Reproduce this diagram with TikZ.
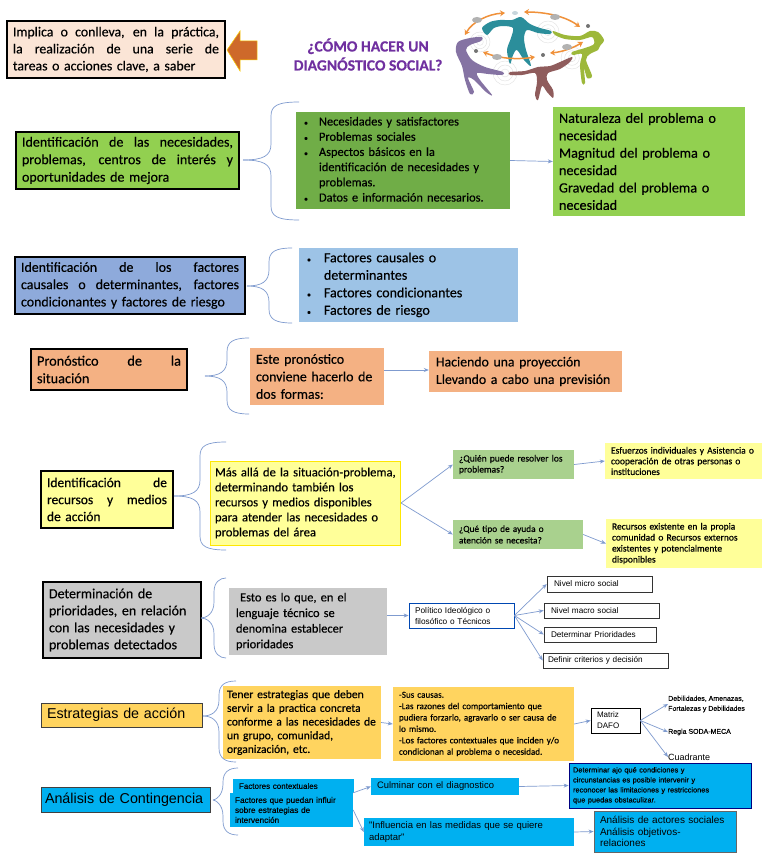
\documentclass[tikz,border=0pt]{standalone}
\usepackage{fontspec}
\setmainfont{Carlito}[FakeBold=0.35]
\newfontfamily\arialf{Liberation Sans}[FakeBold=0.25]
\newfontfamily\arialn{Liberation Sans}
\usetikzlibrary{arrows.meta}
\definecolor{cGreen}{HTML}{92D050}
\definecolor{cDGreen}{HTML}{70AD47}
\definecolor{cBlue}{HTML}{8EAADB}
\definecolor{cLBlue}{HTML}{9DC3E6}
\definecolor{cOrange}{HTML}{F4B183}
\definecolor{cYel}{HTML}{FFFF99}
\definecolor{cMGreen}{HTML}{A9D18E}
\definecolor{cGrey}{HTML}{C9C9C9}
\definecolor{cGold}{HTML}{FFD45F}
\definecolor{cCyan}{HTML}{00B0F0}
\definecolor{cPeach}{HTML}{FBE5D6}
\definecolor{cLine}{HTML}{7F9BCF}
\definecolor{cArr}{HTML}{F0913A}
\definecolor{cTitle}{HTML}{7030A0}
\definecolor{cTeal}{HTML}{2B8E9B}
\definecolor{cFigG}{HTML}{9DB83A}
\definecolor{cFigP}{HTML}{8573A3}
\definecolor{cFigM}{HTML}{8F5C5C}
\newcommand{\jl}[1]{{\spaceskip=0pt \xspaceskip=0pt \makebox[\hsize][s]{#1}}}
\newcommand{\bul}{{\fontsize{8}{8}\selectfont\textbullet}}
\newcommand{\bx}[7][6]{%
 \pgfmathsetmacro{\bw}{#4-#2}\pgfmathsetmacro{\bh}{#5-#3}%
 \pgfmathsetmacro{\tw}{\bw-2*#1}%
 \node[#6,inner xsep=#1pt,inner ysep=0pt,text width=\tw pt,minimum height=\bh pt] (#7) at ({(#2+#4)/2},{(#3+#5)/2})}
\newcommand{\brc}[6]{% tipx tipy spinex topy boty endx
 \draw[bracel] (#1,#2) .. controls (#3-8,#2) and (#3,#2-4) .. (#3,#2-16) -- (#3,#4+14) .. controls (#3,#4+4) and (#3+6,#4) .. (#6,#4);
 \draw[bracel] (#1,#2) .. controls (#3-8,#2) and (#3,#2+4) .. (#3,#2+16) -- (#3,#5-14) .. controls (#3,#5-4) and (#3+6,#5) .. (#6,#5);}
\tikzset{
 bracel/.style={draw=cLine,line width=0.7pt},
 arr/.style={draw=cLine,line width=0.7pt,-{Stealth[length=5pt,width=4pt]}},
 mainb/.style={draw=black,line width=1.2pt,align=left},
 plain/.style={align=left},
 fs/.style 2 args={font=\fontsize{#1}{#2}\selectfont},
 as/.style 2 args={font=\arialf\fontsize{#1}{#2}\selectfont},
 an/.style 2 args={font=\arialn\fontsize{#1}{#2}\selectfont},
 smallbox/.style={plain,draw=black!80,fill=white,line width=0.6pt},
 orr/.style={draw=cArr,line width=1.5pt,{Stealth[length=5pt,width=6pt]}-{Stealth[length=5pt,width=6pt]}},
}
\begin{document}
\begin{tikzpicture}[x=1pt,y=-1pt]
\useasboundingbox (0,0) rectangle (768,866);
\fill[white] (0,0) rectangle (768,866);

% ---- top
\bx{7}{21}{225}{78}{mainb,fill=cPeach,fs={13.8}{17}}{b1} {\jl{Implica o conlleva, en la práctica,}\\\jl{la realización de una serie de}\\tareas o acciones clave, a saber};
\fill[cArr!85!red!85!black,draw=yellow!70!orange,line width=0.5pt] (227,50) -- (240,31) -- (240,41) -- (257,41) -- (257,60) -- (240,60) -- (240,71) -- cycle;
\node[align=center,text=cTitle,font=\bfseries\fontsize{15.6}{19}\selectfont] (title) at (368,54.5) {¿CÓMO HACER UN\\DIAGNÓSTICO SOCIAL?};

% ---- illustration
\foreach \c/\r in {(548,32)/11,(572,58)/11,(505,73)/12,(480,42)/10}{\foreach \k in {1,2,3}{\draw[black!12,line width=0.4pt] \c circle ({\r*\k/3});}}
\fill[cFigP] plot[smooth cycle,tension=.5] coordinates {(458,42)(470,38)(482,37)(481,41)(470,45)(466,50)(472,60)(485,67)(503,72)(502,75)(488,74)(477,73)(480,80)(492,95)(486,92)(474,80)(468,78)(474,92)(470,94)(465,80)(462,66)(456,52)};
\fill[cFigM] plot[smooth cycle,tension=.5] coordinates {(510,72)(525,71)(538,67)(550,66)(560,62)(572,57)(570,62)(560,69)(548,73)(547,80)(553,90)(553,98)(547,92)(542,86)(538,100)(535,95)(537,82)(535,73)(522,75)(510,75)};
\fill[cFigG] plot[smooth cycle,tension=.5] coordinates {(553,31)(565,35)(580,36)(590,31)(598,32)(604,40)(600,46)(598,50)(590,54)(586,60)(592,76)(587,78)(584,68)(585,83)(582,83)(580,65)(582,54)(573,55)(572,52)(585,48)(594,44)(592,37)(580,40)(565,39)(555,35)};
\fill[cTeal] plot[smooth cycle,tension=.5] coordinates {(482,28)(490,22)(500,20)(512,20)(521,17)(530,24)(540,28)(551,31)(550,34)(538,33)(527,30)(524,38)(526,50)(531,66)(524,60)(517,50)(513,55)(510,64)(507,50)(511,38)(513,28)(503,26)(494,28)(487,35)};
\draw[orr] (505,13) .. controls (488,14) and (472,22) .. (465,35);
\draw[orr] (524,12) .. controls (545,12) and (565,16) .. (580,27);
\draw[orr] (483,52) .. controls (498,58) and (515,60) .. (535,57);
\draw[orr] (550,53) .. controls (562,52) and (573,48) .. (583,42);
\foreach \p in {(476,51),(543,55),(588,26)}{\fill[black!55] \p circle (2);}
\fill[cyan!25!gray!40] (515,13) ellipse (3 and 2);
\foreach \p in {(477,20),(555,17),(497,57),(567,47)}{\fill[black!30] \p ellipse (5 and 3);}

% ---- row 2
\bx{16}{132}{239}{189}{mainb,fill=cGreen,fs={14}{17.5}}{b2} {\jl{Identificación de las necesidades,}\\\jl{problemas, centros de interés y}\\oportunidades de mejora};
\bx[8]{296}{112}{510}{209}{plain,fill=cDGreen,fs={12.4}{15.2}}{b2a} {\begin{tabular}{@{}l@{\hspace{11pt}}l@{}}
\bul&Necesidades y satisfactores\\
\bul&Problemas sociales\\
\bul&Aspectos básicos en la\\
&identificación de necesidades y\\
&problemas.\\
\bul&Datos e información necesarios.
\end{tabular}};
\bx[6]{553}{107}{745}{216}{plain,fill=cGreen,fs={14.2}{17.4}}{b2b} {Naturaleza del problema o\\necesidad\\Magnitud del problema o\\necesidad\\Gravedad del problema o\\necesidad};
\brc{243}{160}{271}{102}{220}{299}
\draw[arr] (b2a.east) -- (b2b.west);

% ---- row 3
\bx{15}{257}{245}{314}{mainb,fill=cBlue,fs={13.9}{17.3}}{b3} {\jl{Identificación de los factores}\\\jl{causales o determinantes, factores}\\condicionantes y factores de riesgo};
\bx[8]{299}{248}{518}{322}{plain,fill=cLBlue,fs={14}{17.5}}{b3a} {\begin{tabular}{@{}l@{\hspace{13pt}}l@{}}
\bul&Factores causales o\\
&determinantes\\
\bul&Factores condicionantes\\
\bul&Factores de riesgo
\end{tabular}};
\brc{247}{286}{269}{248}{323}{292}

% ---- row 4
\bx{31}{349}{187}{390}{mainb,fill=cOrange,fs={14.3}{17.5}}{b4} {\jl{Pronóstico\hfill de\hfill la}\\situación};
\bx[6]{250}{348}{384}{405}{plain,fill=cOrange,fs={13.9}{17.5}}{b4a} {Este pronóstico\\conviene hacerlo de\\dos formas:};
\bx[7]{429}{351}{622}{392}{plain,fill=cOrange,fs={13.8}{17.5}}{b4b} {Haciendo una proyección\\Llevando a cabo una previsión};
\brc{205}{376}{227}{338}{414}{249}
\coordinate (s4) at (b4a.east |- 0,370);
\draw[arr] (s4) -- (b4b.west |- s4);

% ---- row 5
\bx{41}{471}{173}{528}{mainb,fill=cYel,fs={13.5}{17}}{b5} {\jl{Identificación\hfill de}\\\jl{recursos y medios}\\de acción};
\bx[5]{210}{461}{400}{545}{plain,fill=cYel,draw=yellow!90!orange,line width=0.5pt,fs={12.6}{15}}{b5a} {\mbox{Más allá de la situación-problema,}\\determinando también los\\recursos y medios disponibles\\para atender las necesidades o\\problemas del área};
\bx[6]{453}{450}{574}{479}{plain,fill=cMGreen,fs={9.5}{11}}{b5b} {¿Quién puede resolver los\\problemas?};
\bx[6]{453}{520}{583}{549}{plain,fill=cMGreen,fs={9.3}{11.5}}{b5c} {¿Qué tipo de ayuda o\\atención se necesita?};
\bx[6]{605}{443}{762}{479}{plain,fill=cYel,fs={9.5}{10.7}}{b5d} {Esfuerzos individuales y Asistencia o\\cooperación de otras personas o\\instituciones};
\bx[6]{606}{519}{762}{568}{plain,fill=cYel,fs={9.5}{11}}{b5e} {Recursos existente en la propia\\comunidad o Recursos externos\\existentes y potencialmente\\disponibles};
\brc{174}{496}{200}{442}{550}{226}
\coordinate (s5) at (401,503);
\draw[arr] (s5) -- (b5b.west);
\draw[arr] (s5) -- (b5c.west);
\draw[arr] (b5b.east) -- (b5d.west);
\draw[arr] (b5c.east) -- (b5e.west);

% ---- row 6
\bx{43}{582}{201}{658}{mainb,fill=cGrey,line width=1.5pt,fs={14}{17}}{b6} {Determinación de\\prioridades, en relación\\con las necesidades y\\problemas detectados};
\bx[7]{229}{588}{387}{655}{plain,fill=cGrey,fs={12.4}{15.6}}{b6a} {\ Esto es lo que, en el\\lenguaje técnico se\\denomina establecer\\prioridades};
\bx[6]{409}{603}{514}{628}{plain,fill=white,draw=blue!60!cyan!70!black,line width=0.8pt,an={8.3}{11}}{b6b} {Político Ideológico o\\filosófico o Técnicos};
\bx[7]{547}{576}{652}{592}{smallbox,an={8.2}{10}}{b6c} {Nivel micro social};
\bx[7]{544}{603}{659}{618}{smallbox,an={8.2}{10}}{b6d} {Nivel macro social};
\bx[7]{544}{627}{656}{642}{smallbox,an={8.2}{10}}{b6e} {Determinar Prioridades};
\bx[5]{543}{653}{668}{668}{smallbox,an={8.2}{10}}{b6f} {Definir criterios y decisión};
\brc{201}{618}{214}{578}{658}{226}
\draw[arr] (b6a.east |- b6b.west) -- (b6b.west);
\foreach \n in {b6c,b6d,b6e,b6f}{\draw[arr] (b6b.east) -- (\n.west);}

% ---- row 7
\bx{41}{703}{202}{727}{draw=black!75,line width=1pt,fill=cGold,align=left,an={14.3}{17}}{b7} {Estrategias de acción};
\bx[4]{223}{686}{381}{759}{plain,fill=cGold,fs={11.6}{13.7}}{b7a} {Tener estrategias que deben\\servir a la practica concreta\\conforme a las necesidades de\\un grupo, comunidad,\\organización, etc.};
\bx[6]{393}{687}{574}{761}{plain,fill=cGold,fs={9.1}{11.4}}{b7b} {-Sus causas.\\-Las razones del comportamiento que\\pudiera forzarlo, agravarlo o ser causa de\\lo mismo.\\-Los factores contextuales que inciden y/o\\condicionan al problema o necesidad.};
\bx[6]{591}{708}{640}{733}{plain,draw=black,fill=white,line width=0.6pt,an={8}{11}}{b7c} {Matriz\\DAFO};
\node[anchor=west,inner sep=0pt,align=left,as={7}{10}] (b7d) at (668,704) {Debilidades, Amenazas,\\Fortalezas y Debilidades};
\node[anchor=west,inner sep=0pt,as={7}{10}] (b7e) at (668,732) {Regla SODA-MECA};
\node[anchor=west,inner sep=0pt,an={9}{10}] (b7f) at (668,757) {Cuadrante};
\brc{203}{716}{219}{681}{762}{236}
\draw[arr] (b7a.east) -- (b7b.west);
\draw[arr] (b7b.east) -- (b7c.west);
\draw[arr] (b7c.east) -- (b7d.west);
\draw[arr] (b7c.east) -- (b7e.west);
\draw[arr] (b7c.east) -- (b7f.west);

% ---- row 8
\bx[4]{41}{787}{210}{812}{draw=black!75,line width=1pt,fill=cCyan,align=left,an={14.3}{17}}{b8} {Análisis de Contingencia};
\bx[6]{233}{779}{354}{793}{plain,fill=cCyan,as={8}{10}}{b8a} {Factores contextuales};
\bx[5]{230}{793}{353}{827}{plain,fill=cCyan,as={8.2}{10}}{b8b} {Factores que puedan influir\\sobre estrategias de\\intervención};
\bx[6]{371}{778}{519}{795}{plain,fill=cCyan,an={9.4}{12}}{b8c} {Culminar con el diagnostico};
\bx[5]{364}{818}{574}{846}{plain,fill=cCyan,an={9.5}{12.5}}{b8d} {"Influencia en las medidas que se quiere\\adaptar"};
\bx[4]{569}{763}{751}{808}{draw=blue!50!black,line width=0.8pt,fill=cCyan,align=left,as={7.4}{10}}{b8e} {Determinar ajo qué condiciones y\\circunstancias es posible intervenir y\\reconocer las limitaciones y restricciones\\que puedas obstaculizar.};
\bx[6]{594}{811}{736}{852}{draw=black!60,line width=0.8pt,fill=cCyan,align=left,an={10}{11.7}}{b8f} {Análisis de actores sociales\\Análisis objetivos-\\relaciones};
\brc{213}{800}{223}{768}{835}{238}
\draw[arr] (b8b.north east) -- (b8c.west);
\draw[arr] (b8b.east) -- (b8d.west);
\draw[arr] (b8c.east) -- (b8e.west);
\draw[arr] (b8d.east) -- (b8f.west);
\end{tikzpicture}
\end{document}
